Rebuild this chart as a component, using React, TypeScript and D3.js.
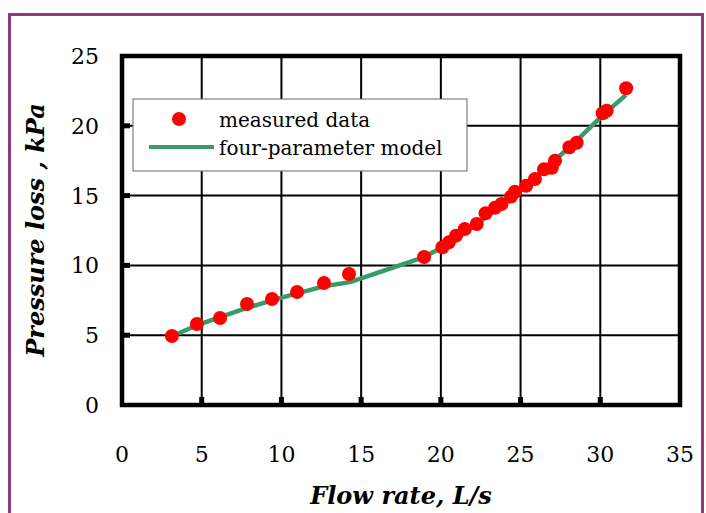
import React from "react";
import * as d3 from "d3";

const width = 706;
const height = 513;
const margin = { top: 56, right: 26, bottom: 108, left: 122 };

// measured data (flow rate L/s, pressure loss kPa)
const measuredX = [3.13, 4.7, 6.15, 7.84, 9.41, 10.98, 12.67, 14.24, 18.95, 20.1, 20.5, 20.95, 21.5, 22.25, 22.8, 23.4, 23.8, 24.4, 24.65, 25.35, 25.9, 26.47, 26.96, 27.16, 28.06, 28.52, 30.15, 30.4, 31.62];
const measuredY = [4.94, 5.8, 6.23, 7.23, 7.59, 8.09, 8.74, 9.38, 10.6, 11.3, 11.65, 12.13, 12.6, 12.97, 13.73, 14.13, 14.4, 14.93, 15.28, 15.71, 16.19, 16.88, 17.0, 17.5, 18.46, 18.79, 20.9, 21.08, 22.69];

// four-parameter model curve
const modelX = [3.13, 4.8, 6.15, 7.84, 9.41, 10.98, 12.67, 14.3, 18.95, 20.5, 22.25, 24.65, 26.5, 28.3, 30.2, 31.6];
const modelY = [4.94, 5.75, 6.3, 6.95, 7.5, 8.0, 8.5, 8.8, 10.6, 11.55, 12.95, 15.0, 16.9, 18.7, 20.8, 22.2];

const xTicks = [0, 5, 10, 15, 20, 25, 30, 35];
const yTicks = [0, 5, 10, 15, 20, 25];

const font = "DejaVu Serif";

export default function App() {
  const x = d3.scaleLinear().domain([0, 35]).range([margin.left, width - margin.right]);
  const y = d3.scaleLinear().domain([0, 25]).range([height - margin.bottom, margin.top]);

  const line = d3
    .line<number>()
    .x((d) => x(modelX[d]))
    .y((d) => y(modelY[d]));

  const x0 = x(0), x1 = x(35), y0 = y(0), y1 = y(25);

  return (
    <svg width={width} height={height} style={{ position: "absolute", left: 0, top: 0, background: "#fff" }}>
      <rect x={9.5} y={14.5} width={693} height={520} fill="#fff" stroke="#8e3b7e" strokeWidth={3} />

      {/* grid */}
      {xTicks.slice(1, -1).map((t) => (
        <line key={"gx" + t} x1={x(t)} x2={x(t)} y1={y1} y2={y0} stroke="#000" strokeWidth={2} />
      ))}
      {yTicks.slice(1, -1).map((t) => (
        <line key={"gy" + t} x1={x0} x2={x1} y1={y(t)} y2={y(t)} stroke="#000" strokeWidth={2} />
      ))}
      {/* inner tick marks */}
      {xTicks.slice(1, -1).map((t) => (
        <line key={"tx" + t} x1={x(t)} x2={x(t)} y1={y0 - 8} y2={y0} stroke="#000" strokeWidth={5} />
      ))}
      {yTicks.slice(1, -1).map((t) => (
        <line key={"ty" + t} x1={x0} x2={x0 + 8} y1={y(t)} y2={y(t)} stroke="#000" strokeWidth={5} />
      ))}

      {/* legend box */}
      <rect x={133} y={99} width={334} height={72} fill="#fff" stroke="#666" strokeWidth={1} />
      <circle cx={179} cy={119} r={7} fill="#ff0000" />
      <text x={219} y={127} fontFamily={font} fontSize={20}>measured data</text>
      <line x1={149} x2={214} y1={147} y2={147} stroke="#3a9a6a" strokeWidth={4} />
      <text x={219} y={155} fontFamily={font} fontSize={20}>four-parameter model</text>

      {/* model line */}
      <path d={line(d3.range(modelX.length)) ?? ""} fill="none" stroke="#3a9a6a" strokeWidth={4.5} strokeLinejoin="round" />

      {/* measured points */}
      {measuredX.map((v, i) => (
        <circle key={i} cx={x(v)} cy={y(measuredY[i])} r={7} fill="#ff0000" />
      ))}

      {/* frame */}
      <rect x={x0} y={y1} width={x1 - x0} height={y0 - y1} fill="none" stroke="#000" strokeWidth={4.5} />

      {/* tick labels */}
      {xTicks.map((t) => (
        <text key={"lx" + t} x={x(t)} y={462} textAnchor="middle" fontFamily={font} fontSize={22}>{t}</text>
      ))}
      {yTicks.map((t) => (
        <text key={"ly" + t} x={99} y={y(t) + 8} textAnchor="end" fontFamily={font} fontSize={22}>{t}</text>
      ))}

      {/* axis titles */}
      <text x={401} y={504} textAnchor="middle" fontFamily={font} fontSize={24} fontWeight="bold" fontStyle="italic">Flow rate, L/s</text>
      <text transform={`translate(44, ${230}) rotate(-90)`} textAnchor="middle" fontFamily={font} fontSize={24} fontWeight="bold" fontStyle="italic">Pressure loss , kPa</text>
    </svg>
  );
}
